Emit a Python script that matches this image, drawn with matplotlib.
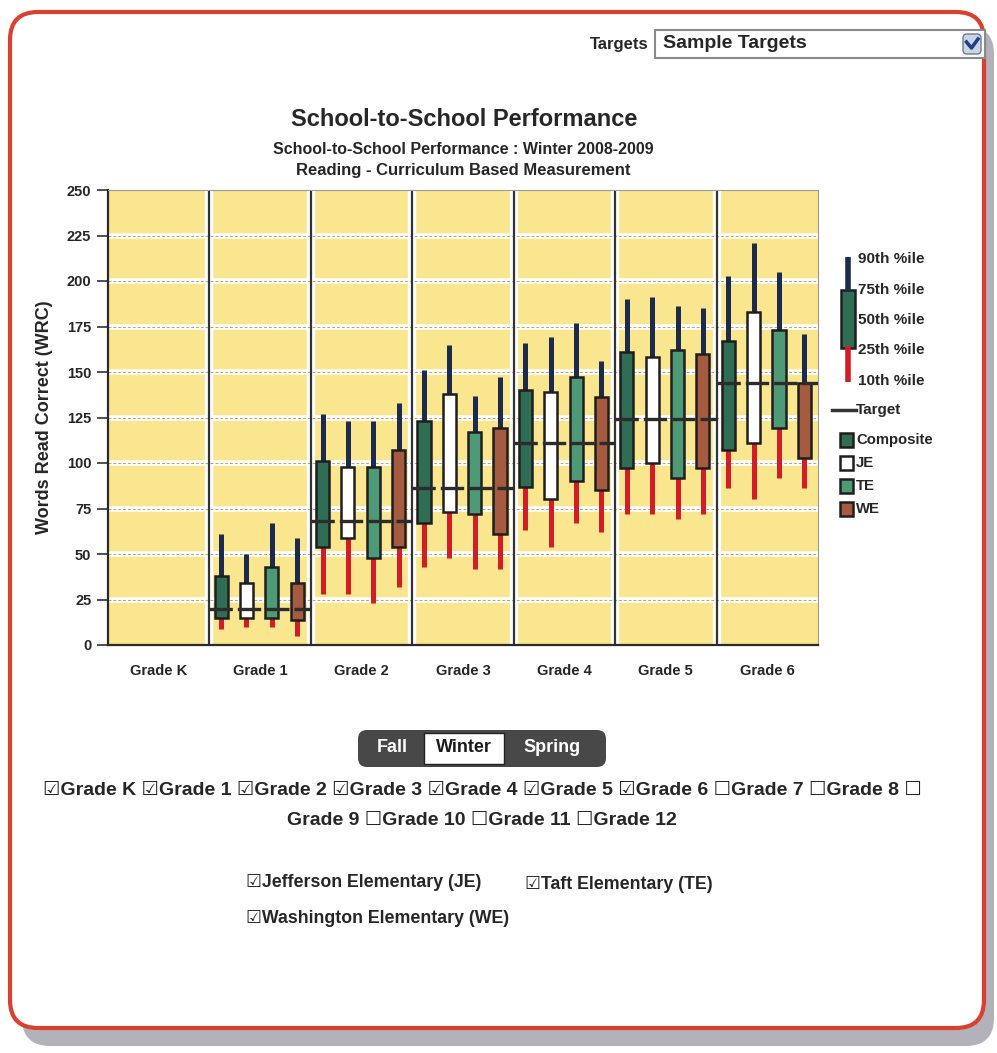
from matplotlib import pyplot as plt
from matplotlib.patches import FancyBboxPatch, Rectangle
import numpy as np

plt.rcParams['font.family'] = ['Liberation Sans', 'DejaVu Sans']
plt.rcParams['font.weight'] = 'bold'
plt.rcParams['axes.labelweight'] = 'bold'

W, H = 997, 1053

grades = ['Grade K', 'Grade 1', 'Grade 2', 'Grade 3', 'Grade 4', 'Grade 5', 'Grade 6']
# winter targets per grade (no data for K)
targets = [None, 20, 68, 86, 111, 124, 144]

# percentiles per grade: (10th, 25th, 75th, 90th)
composite = [None, (9, 15, 38, 61), (28, 54, 101, 127), (43, 67, 123, 151),
             (63, 87, 140, 166), (72, 97, 161, 190), (86, 107, 167, 203)]
je = [None, (10, 15, 34, 50), (28, 59, 98, 123), (48, 73, 138, 165),
      (54, 80, 139, 169), (72, 100, 158, 191), (80, 111, 183, 221)]
te = [None, (10, 15, 43, 67), (23, 48, 98, 123), (42, 72, 117, 137),
      (67, 90, 147, 177), (69, 92, 162, 186), (92, 119, 173, 205)]
we = [None, (5, 14, 34, 59), (32, 54, 107, 133), (42, 61, 119, 147),
      (62, 85, 136, 156), (72, 97, 160, 185), (86, 103, 144, 171)]

series = [('Composite', composite, '#2f6e55'),
          ('JE', je, '#ffffff'),
          ('TE', te, '#4f9a76'),
          ('WE', we, '#a65a40')]

pct_labels = ['90th %ile', '75th %ile', '50th %ile', '25th %ile', '10th %ile']
grade_boxes = ['Grade K', 'Grade 1', 'Grade 2', 'Grade 3', 'Grade 4', 'Grade 5', 'Grade 6']
grade_empty = ['Grade 7', 'Grade 8', 'Grade 9', 'Grade 10', 'Grade 11', 'Grade 12']

UP = '#1c2a4c'
LOW = '#d21c26'
EDGE = '#1e1e1e'
YEL = '#f9e68e'
TXT = '#262626'

fig = plt.figure(figsize=(W / 100, H / 100), dpi=100)

# page layer in pixel coordinates
ui = fig.add_axes([0, 0, 1, 1], zorder=0)
ui.set_xlim(0, W)
ui.set_ylim(H, 0)
ui.axis('off')

ui.add_patch(FancyBboxPatch((22, 26), 972, 1020, boxstyle='round,pad=0,rounding_size=28',
                            fc='#a6a5b0', ec='none', alpha=0.85))
ui.add_patch(FancyBboxPatch((10, 12), 974, 1016, boxstyle='round,pad=0,rounding_size=28',
                            fc='white', ec='#d9402e', lw=3))

# targets dropdown
ui.text(648, 44, 'Targets', ha='right', va='center', fontsize=12, color=TXT)
ui.add_patch(Rectangle((655, 30), 330, 28, fc='white', ec='#8a8a8a', lw=1.5))
ui.text(663, 44, 'Sample Targets', ha='left', va='center', fontsize=14, color=TXT)
ui.add_patch(FancyBboxPatch((963, 34), 18, 20, boxstyle='round,pad=0,rounding_size=4',
                            fc='#c9d4e6', ec='#6c7a90', lw=1))
ui.plot([966.5, 971.5, 978], [42, 48, 39], color='#1f3e86', lw=2.5)

# titles
ui.text(464, 120, 'School-to-School Performance', ha='center', va='center', fontsize=17, color=TXT)
ui.text(463, 149, 'School-to-School Performance : Winter 2008-2009', ha='center', va='center',
        fontsize=11.5, color=TXT)
ui.text(463, 171, 'Reading - Curriculum Based Measurement', ha='center', va='center',
        fontsize=12, color=TXT)

# legend
ui.plot([848, 848], [257, 292], color=UP, lw=4, solid_capstyle='butt')
ui.plot([848, 848], [346, 382], color=LOW, lw=4, solid_capstyle='butt')
ui.add_patch(Rectangle((841, 290), 14, 58, fc='#2f6e55', ec=EDGE, lw=1.8))
for i, lab in enumerate(pct_labels):
    ui.text(858, 259 + i * 30.5, lab, ha='left', va='center', fontsize=11, color=TXT)
ui.plot([832, 856], [410, 410], color='#333333', lw=2.5)
ui.text(856, 410, 'Target', ha='left', va='center', fontsize=11, color=TXT)
for i, (name, _, col) in enumerate(series):
    ui.add_patch(Rectangle((840, 433 + i * 23), 13, 14, fc=col, ec=EDGE, lw=1.8))
    ui.text(856, 440 + i * 23, name, ha='left', va='center', fontsize=10.7, color=TXT)

# season toggle
ui.add_patch(FancyBboxPatch((358, 730), 248, 37, boxstyle='round,pad=0,rounding_size=9',
                            fc='#484848', ec='none'))
ui.add_patch(Rectangle((424, 733), 80, 31, fc='white', ec='#222222', lw=1))
ui.text(392, 748, 'Fall', ha='center', va='center', fontsize=13, color='white')
ui.text(464, 748, 'Winter', ha='center', va='center', fontsize=13, color='#1a1a1a')
ui.text(552, 748, 'Spring', ha='center', va='center', fontsize=13, color='white')

# grade and school checkboxes
line1 = ' '.join(['\u2611' + g for g in grade_boxes] + ['\u2610' + g for g in grade_empty[:2]]) + ' \u2610'
line2 = grade_empty[2] + ' ' + ' '.join('\u2610' + g for g in grade_empty[3:])
ui.text(482, 790, line1, ha='center', va='center', fontsize=14, color=TXT)
ui.text(482, 820, line2, ha='center', va='center', fontsize=14, color=TXT)
ui.text(246, 882, '\u2611Jefferson Elementary (JE)', ha='left', va='center', fontsize=12.8, color=TXT)
ui.text(525, 884, '\u2611Taft Elementary (TE)', ha='left', va='center', fontsize=12.8, color=TXT)
ui.text(246, 918, '\u2611Washington Elementary (WE)', ha='left', va='center', fontsize=12.8, color=TXT)

# chart
ax = fig.add_axes([108 / W, 1 - 645 / H, (818 - 108) / W, (645 - 190) / H], zorder=1)
ax.set_facecolor(YEL)
ax.set_xlim(-0.5, len(grades) - 0.5)
ax.set_ylim(0, 250)
yt = np.arange(0, 251, 25)
for y in yt[1:-1]:
    ax.axhline(y, color='white', lw=4, zorder=1)
    ax.axhline(y, color='#b8a676', lw=0.7, ls=(0, (3, 2)), zorder=1.1)
for k in range(len(grades) - 1):
    ax.axvline(k + 0.5, color='white', lw=6, zorder=1)
    ax.axvline(k + 0.5, color='#333333', lw=1.6, zorder=1.2)

offsets = [-0.385, -0.135, 0.115, 0.365]
bw = 0.13
for (name, vals, col), off in zip(series, offsets):
    for g, v in enumerate(vals):
        if v is None:
            continue
        p10, p25, p75, p90 = v
        x = g + off
        ax.vlines(x, p75, p90, color=UP, lw=3.6, zorder=2)
        ax.vlines(x, p10, p25, color=LOW, lw=3.6, zorder=2)
        ax.bar(x, p75 - p25, bottom=p25, width=bw, color=col, edgecolor=EDGE, lw=1.8, zorder=3)

for g, t in enumerate(targets):
    if t is None:
        continue
    ax.hlines(t, g - 0.5, g + 0.5, color='#2c2c2c', lw=2.4, ls=(0, (7, 1.5)), zorder=4)

ax.set_yticks(yt)
ax.set_yticklabels([str(v) for v in yt], fontsize=10.5, color=TXT)
ax.set_xticks(range(len(grades)))
ax.set_xticklabels(grades, fontsize=10.5, color=TXT)
ax.tick_params(axis='y', length=8, width=1.2, color='#333333', pad=4)
ax.tick_params(axis='x', length=0, pad=14)
ax.set_ylabel('Words Read Correct (WRC)', fontsize=13, labelpad=10, color=TXT)
for s in ['left', 'bottom']:
    ax.spines[s].set_color('#2a2a2a')
    ax.spines[s].set_linewidth(1.6)
for s in ['top', 'right']:
    ax.spines[s].set_color('#9a9a9a')
    ax.spines[s].set_linewidth(0.8)

fig.savefig('out.png', dpi=100)
